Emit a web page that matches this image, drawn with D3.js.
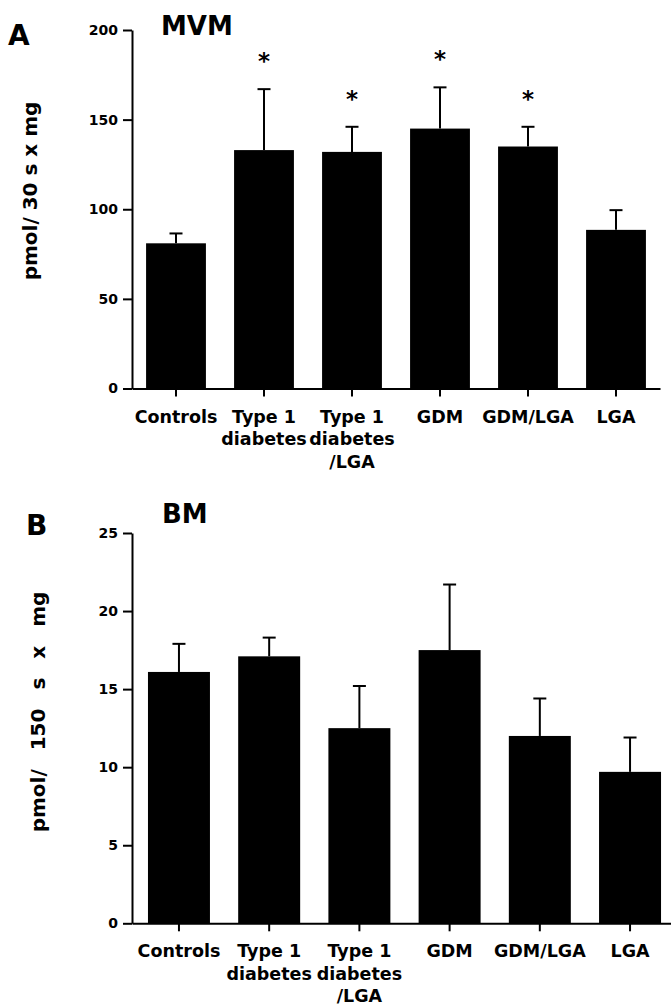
<!DOCTYPE html>
<html>
<head>
<meta charset="utf-8">
<script src="https://cdn.jsdelivr.net/npm/d3@7"></script>
<style>
  body { margin: 0; background: #fff; }
  svg { display: block; }
  text { font-family: 'DejaVu Sans', sans-serif; font-weight: bold; fill: #000; }
  .axis path, .axis line { stroke: #000; stroke-width: 2px; }
  .axis text { font-size: 14px; }
  .x.axis text { font-size: 17.5px; }
</style>
</head>
<body>
<div id="figure"></div>
<script>
// group names, one entry per line of the label
const categories = ['Controls', 'Type 1\ndiabetes', 'Type 1\ndiabetes\n/LGA', 'GDM', 'GDM/LGA', 'LGA']

// panel A : MVM uptake (pmol / 30 s x mg)
const mvmMeans = [81, 133, 132, 145, 135, 88.5]
const mvmErrors = [5.5, 34, 14, 23, 11, 11]
const mvmSignificant = [false, true, true, true, true, false]
const mvmTicks = [0, 50, 100, 150, 200]

// panel B : BM uptake (pmol / 150 s x mg)
const bmMeans = [16.1, 17.1, 12.5, 17.5, 12.0, 9.7]
const bmErrors = [1.8, 1.2, 2.7, 4.2, 2.4, 2.2]
const bmSignificant = [false, false, false, false, false, false]
const bmTicks = [0, 5, 10, 15, 20, 25]

const svg = d3.select('#figure')
  .append('svg')
  .attr('width', 671)
  .attr('height', 1005)

/**
 * Draws one bar panel with its axes, error bars and labels.
 *
 * @param {object} cfg The panel settings and its data
 */
function drawPanel (cfg) {
  const g = svg.append('g')

  const x = d3.scaleBand()
    .domain(categories)
    .range(cfg.xRange)
    .paddingInner(cfg.padInner)
    .paddingOuter(cfg.padOuter)

  const y = d3.scaleLinear()
    .domain([0, d3.max(cfg.ticks)])
    .range(cfg.yRange)

  const data = categories.map((c, i) => ({
    name: c, mean: cfg.means[i], err: cfg.errors[i], star: cfg.stars[i]
  }))

  // error bars (upper only), drawn first so the bar covers the stem
  const eb = g.append('g').attr('class', 'error-bars')
  eb.selectAll('line.stem')
    .data(data)
    .join('line')
    .attr('class', 'stem')
    .attr('x1', d => x(d.name) + x.bandwidth() / 2)
    .attr('x2', d => x(d.name) + x.bandwidth() / 2)
    .attr('y1', d => y(d.mean))
    .attr('y2', d => y(d.mean + d.err))
    .attr('stroke', '#000')
    .attr('stroke-width', 2)
  eb.selectAll('line.cap')
    .data(data)
    .join('line')
    .attr('class', 'cap')
    .attr('x1', d => x(d.name) + x.bandwidth() / 2 - 6.5)
    .attr('x2', d => x(d.name) + x.bandwidth() / 2 + 6.5)
    .attr('y1', d => y(d.mean + d.err))
    .attr('y2', d => y(d.mean + d.err))
    .attr('stroke', '#000')
    .attr('stroke-width', 2)

  g.selectAll('rect.bar')
    .data(data)
    .join('rect')
    .attr('class', 'bar')
    .attr('x', d => x(d.name))
    .attr('width', x.bandwidth())
    .attr('y', d => y(d.mean))
    .attr('height', d => y(0) - y(d.mean))
    .attr('fill', '#000')

  // significance stars
  g.selectAll('text.star')
    .data(data.filter(d => d.star))
    .join('text')
    .attr('class', 'star')
    .attr('x', d => x(d.name) + x.bandwidth() / 2)
    .attr('y', d => y(d.mean + d.err) - 20)
    .attr('text-anchor', 'middle')
    .attr('font-size', 23)
    .text('*')

  g.append('g')
    .attr('class', 'y axis')
    .attr('transform', 'translate(' + cfg.xRange[0] + ',0)')
    .call(d3.axisLeft(y).tickValues(cfg.ticks).tickSize(9).tickSizeOuter(0).tickPadding(5))

  const xAxis = g.append('g')
    .attr('class', 'x axis')
    .attr('transform', 'translate(0,' + cfg.yRange[0] + ')')
    .call(d3.axisBottom(x).tickSize(8).tickSizeOuter(0).tickPadding(0))

  xAxis.selectAll('.tick text')
    .attr('y', 34)
    .attr('dy', null)
    .each(function (d) {
      const t = d3.select(this).text('')
      d.split('\n').forEach((line, i) => {
        t.append('tspan')
          .attr('x', 0)
          .attr('y', 34 + i * 22.5)
          .text(line)
      })
    })

  g.append('text')
    .text(cfg.yLabel)
    .attr('text-anchor', 'middle')
    .attr('font-size', 20)
    .style('word-spacing', cfg.wordSpacing + 'px')
    .attr('transform', 'translate(' + cfg.yLabelPos[0] + ',' + cfg.yLabelPos[1] + ') rotate(-90)')

  g.append('text')
    .text(cfg.title)
    .attr('x', cfg.titlePos[0])
    .attr('y', cfg.titlePos[1])
    .attr('font-size', 26)

  g.append('text')
    .text(cfg.letter)
    .attr('x', cfg.letterPos[0])
    .attr('y', cfg.letterPos[1])
    .attr('font-size', 28)
}

drawPanel({
  means: mvmMeans,
  errors: mvmErrors,
  stars: mvmSignificant,
  ticks: mvmTicks,
  xRange: [132, 660],
  yRange: [388.5, 30],
  padInner: 0.32,
  padOuter: 0.16,
  yLabel: 'pmol/ 30 s x mg',
  yLabelPos: [37, 191],
  wordSpacing: 0,
  title: 'MVM',
  titlePos: [161, 35],
  letter: 'A',
  letterPos: [8, 45]
})

drawPanel({
  means: bmMeans,
  errors: bmErrors,
  stars: bmSignificant,
  ticks: bmTicks,
  xRange: [132, 677],
  yRange: [923.3, 533],
  padInner: 0.313,
  padOuter: 0.177,
  yLabel: 'pmol/ 150 s x mg',
  yLabelPos: [45, 712],
  wordSpacing: 12,
  title: 'BM',
  titlePos: [162, 523],
  letter: 'B',
  letterPos: [26, 535]
})
</script>
</body>
</html>
